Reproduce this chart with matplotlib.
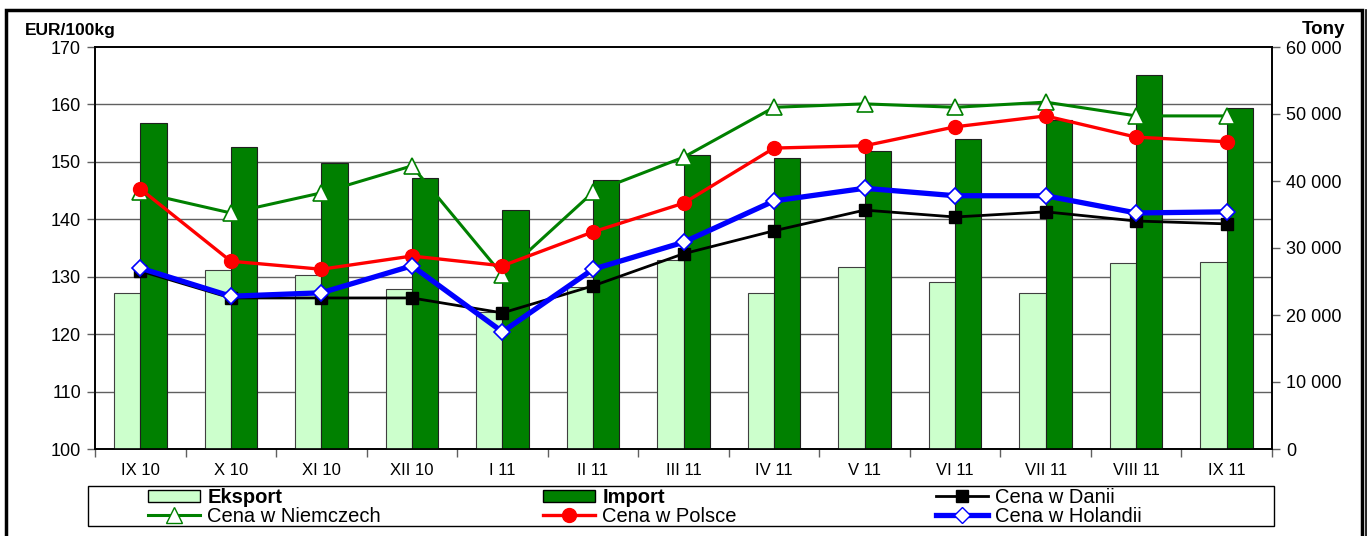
import matplotlib
matplotlib.use("Agg")
import matplotlib.pyplot as plt
from matplotlib.patches import Rectangle
from matplotlib.lines import Line2D
from matplotlib.transforms import blended_transform_factory
import numpy as np

plt.rcParams['font.family'] = ['Liberation Sans', 'DejaVu Sans']

categories = ["IX 10", "X 10", "XI 10", "XII 10", "I 11", "II 11", "III 11",
              "IV 11", "V 11", "VI 11", "VII 11", "VIII 11", "IX 11"]
eksport = [23300, 26700, 26000, 23900, 20500, 24200, 28200,
           23300, 27200, 24900, 23300, 27800, 27900]
import_ = [48700, 45100, 42700, 40500, 35700, 40200, 43900,
           43400, 44500, 46300, 49100, 55800, 50900]
cena_dania = [131.0, 126.3, 126.3, 126.3, 123.7, 128.4, 134.0,
              138.0, 141.6, 140.4, 141.3, 139.7, 139.2]
cena_niemcy = [144.7, 141.1, 144.6, 149.3, 130.3, 144.7, 150.8,
               159.5, 160.1, 159.5, 160.4, 158.0, 158.0]
cena_polska = [145.3, 132.7, 131.3, 133.6, 131.9, 137.8, 142.8,
               152.4, 152.8, 156.1, 158.0, 154.3, 153.5]
cena_holandia = [131.5, 126.6, 127.2, 131.9, 120.4, 131.3, 136.0,
                 143.2, 145.4, 144.1, 144.1, 141.1, 141.3]

W, H = 1372, 536
fig = plt.figure(figsize=(W / 100, H / 100), dpi=100)
fig.patch.set_facecolor('white')

L, R, T, B = 95, 1272, 47, 449
ax2 = fig.add_axes([L / W, 1 - B / H, (R - L) / W, (B - T) / H])
ax = ax2.twinx()
ax.set_zorder(ax2.get_zorder() + 1)
ax.patch.set_visible(False)

x = np.arange(len(categories))
bw = 0.29
ax2.bar(x - bw / 2, eksport, width=bw, color='#CCFFCC', edgecolor='#404040',
        linewidth=0.8, zorder=3)
ax2.bar(x + bw / 2, import_, width=bw, color='#008000', edgecolor='#202020',
        linewidth=0.8, zorder=3)
ax2.set_ylim(0, 60000)
ax2.set_xlim(-0.5, len(categories) - 0.5)
ax2.set_yticks(np.arange(0, 60001, 10000))
ax2.yaxis.tick_right()
ax2.yaxis.set_label_position('right')
ax2.set_yticklabels([f"{v:,}".replace(",", " ") for v in range(0, 60001, 10000)])

ax.yaxis.tick_left()
ax.plot(x, cena_niemcy, color='#008000', linewidth=2.2, marker='^', markersize=11,
        markerfacecolor='white', markeredgecolor='#008000', markeredgewidth=1.2, zorder=4)
ax.plot(x, cena_polska, color='#FF0000', linewidth=2.4, marker='o', markersize=10,
        markerfacecolor='#FF0000', markeredgecolor='#FF0000', zorder=5)
ax.plot(x, cena_dania, color='black', linewidth=2.0, marker='s', markersize=9,
        markerfacecolor='black', zorder=6)
ax.plot(x, cena_holandia, color='#0000FF', linewidth=3.8, marker='D', markersize=8,
        markerfacecolor='white', markeredgecolor='#0000FF', markeredgewidth=1.2, zorder=7)
ax.set_ylim(100, 170)
left_ticks = np.arange(100, 171, 10)
ax.set_yticks(left_ticks)

# gridlines of the left (price) axis, drawn behind the bars
gtrans = blended_transform_factory(ax2.transAxes, ax.transData)
for v in left_ticks[1:-1]:
    ax2.add_line(Line2D([0, 1], [v, v], transform=gtrans, color='#606060',
                        linewidth=1.0, zorder=1))

for a in (ax, ax2):
    for s in a.spines.values():
        s.set_color('black')
        s.set_linewidth(1.2)
ax.tick_params(axis='y', direction='out', length=6, width=1, color='#606060',
               labelsize=13, pad=4)
ax2.tick_params(axis='y', direction='out', length=6, width=1, color='#606060',
                labelsize=13, pad=4)

ax2.set_xticks(np.arange(-0.5, len(categories), 1.0))
ax2.set_xticklabels([])
ax2.set_xticks(x, minor=True)
ax2.set_xticklabels(categories, minor=True)
ax2.tick_params(axis='x', which='major', direction='out', length=6, width=1,
                color='#606060')
ax2.tick_params(axis='x', which='minor', length=0, labelsize=12, pad=10)
ax.tick_params(axis='x', which='both', length=0)

fig.text(25 / W, 1 - 30 / H, "EUR/100kg", fontsize=12.5, fontweight='bold',
         va='center', ha='left')
fig.text(1345 / W, 1 - 30 / H, "Tony", fontsize=13.5, fontweight='bold',
         va='center', ha='right')

# legend frame
fig.add_artist(Rectangle((88 / W, 1 - 526 / H), (1274 - 88) / W, 40 / H,
                         transform=fig.transFigure, fill=False,
                         edgecolor='black', linewidth=1.0))

h_eks = Rectangle((0, 0), 1, 1, facecolor='#CCFFCC', edgecolor='black', linewidth=1.0)
h_imp = Rectangle((0, 0), 1, 1, facecolor='#008000', edgecolor='black', linewidth=1.0)
h_nie = Line2D([], [], color='#008000', linewidth=2.2, marker='^', markersize=11,
               markerfacecolor='white', markeredgecolor='#008000')
h_pol = Line2D([], [], color='#FF0000', linewidth=2.4, marker='o', markersize=10)
h_dan = Line2D([], [], color='black', linewidth=2.0, marker='s', markersize=9)
h_hol = Line2D([], [], color='#0000FF', linewidth=3.8, marker='D', markersize=8,
               markerfacecolor='white', markeredgecolor='#0000FF')

cols = [((h_eks, "Eksport", True), (h_nie, "Cena w Niemczech", False), 148),
        ((h_imp, "Import", True), (h_pol, "Cena w Polsce", False), 543),
        ((h_dan, "Cena w Danii", False), (h_hol, "Cena w Holandii", False), 936)]
for e1, e2, xp in cols:
    leg = fig.legend([e1[0], e2[0]], [e1[1], e2[1]],
                     loc='upper left', bbox_to_anchor=(xp / W, 1 - 488 / H),
                     frameon=False, fontsize=14.5, handlelength=2.6,
                     handleheight=0.6, handletextpad=0.35, labelspacing=0.0,
                     borderpad=0.0, borderaxespad=0.0)
    texts = leg.get_texts()
    if e1[2]:
        texts[0].set_fontweight('bold')

# outer border
fig.add_artist(Rectangle((6 / W, -0.01), (1362 - 6) / W, (1 - 10 / H) + 0.01,
                         transform=fig.transFigure, fill=False,
                         edgecolor='black', linewidth=2.5))
fig.add_artist(Line2D([1366 / W, 1366 / W], [0, 1 - 10 / H], transform=fig.transFigure,
                      color='black', linewidth=1.2))

fig.savefig("out.png", dpi=100)
